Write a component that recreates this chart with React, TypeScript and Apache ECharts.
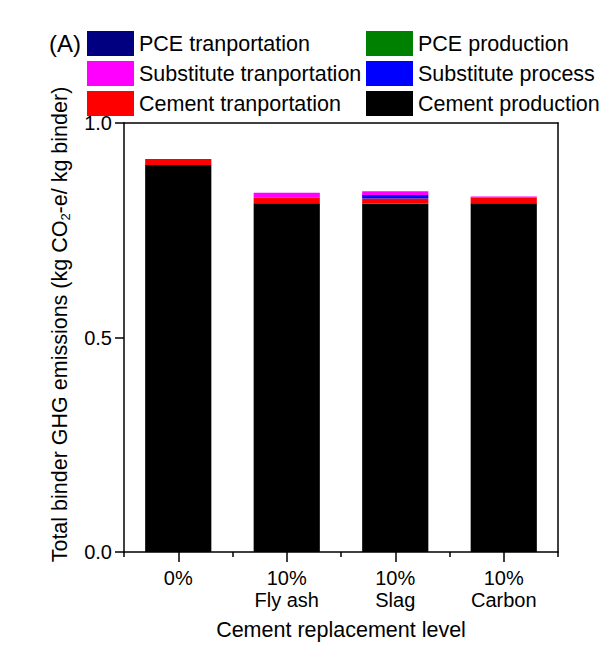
import React, { useEffect, useRef } from "react";
import * as echarts from "echarts";

const categories = ["0%\nFly ash", "10%\nFly ash", "10%\nSlag", "10%\nCarbon"];
const categoryLabels = ["0%", "10%\nFly ash", "10%\nSlag", "10%\nCarbon"];
const cementProduction = [0.902, 0.813, 0.812, 0.813];
const cementTransport = [0.014, 0.012, 0.012, 0.012];
const substituteProcess = [0, 0.001, 0.008, 0.0005];
const substituteTransport = [0, 0.0115, 0.009, 0.003];
const pceProduction = [0.0001, 0.0001, 0.0001, 0.0001];
const pceTransport = [0.0001, 0.0001, 0.0001, 0.0001];
const yTicks = ["0.0", "0.5", "1.0"];

const FONT = "Liberation Sans, Arial, sans-serif";

export default function App() {
  const ref = useRef<HTMLDivElement>(null);
  useEffect(() => {
    if (!ref.current) return;
    const chart = echarts.init(ref.current, undefined, { renderer: "svg" });
    const mk = (name: string, data: number[], color: string) => ({
      name,
      type: "bar",
      stack: "total",
      data,
      barWidth: "61%",
      itemStyle: { color },
      emphasis: { disabled: true },
    });
    const legendCommon = {
      orient: "vertical",
      top: 31,
      padding: 0,
      itemWidth: 47,
      itemHeight: 25,
      itemGap: 5,
      icon: "rect",
      selectedMode: false,
      textStyle: { fontSize: 21.5, fontFamily: FONT, color: "#000" },
    };
    chart.setOption({
      animation: false,
      backgroundColor: "#fff",
      textStyle: { fontFamily: FONT },
      graphic: [
        {
          type: "text",
          left: 49,
          top: 31,
          style: { text: "(A)", fontSize: 24, fontFamily: FONT, fill: "#000" },
        },
      ],
      legend: [
        {
          ...legendCommon,
          left: 87,
          data: ["PCE tranportation", "Substitute tranportation", "Cement tranportation"],
        },
        {
          ...legendCommon,
          left: 366,
          data: ["PCE production", "Substitute process", "Cement production"],
        },
      ],
      grid: { left: 124, right: 41, top: 123, bottom: 93, show: false },
      xAxis: [
        {
          type: "category",
          data: categoryLabels,
          name: "Cement replacement level",
          nameLocation: "middle",
          nameGap: 67,
          nameTextStyle: { fontSize: 21.5, fontFamily: FONT, color: "#000" },
          axisLine: { show: true, lineStyle: { color: "#000", width: 1.5 } },
          axisTick: { show: true, alignWithLabel: true, length: 10, lineStyle: { color: "#000", width: 1.5 } },
          axisLabel: { fontSize: 20, fontFamily: FONT, color: "#000", lineHeight: 22, margin: 15, interval: 0 },
        },
        {
          type: "category",
          data: categories,
          position: "bottom",
          axisLine: { show: false },
          axisTick: { show: true, length: 5, lineStyle: { color: "#000", width: 1.5 } },
          axisLabel: { show: false },
        },
        {
          type: "category",
          data: categories,
          position: "top",
          axisLine: { show: true, lineStyle: { color: "#000", width: 1.5 } },
          axisTick: { show: false },
          axisLabel: { show: false },
        },
      ],
      yAxis: [
        {
          type: "value",
          min: 0,
          max: 1,
          interval: 0.5,
          name: "{a|Total binder GHG emissions (kg CO}{s|2}{a|-e/ kg binder)}",
          nameLocation: "middle",
          nameGap: 52,
          nameTextStyle: {
            padding: [0, 0, 0, 26],
            rich: {
              a: { fontSize: 21.5, fontFamily: FONT, color: "#000" },
              s: { fontSize: 13, fontFamily: FONT, color: "#000", verticalAlign: "bottom", padding: [11, 0, 0, 0] },
            },
          },
          splitLine: { show: false },
          axisLine: { show: true, lineStyle: { color: "#000", width: 1.5 } },
          axisTick: { show: true, length: 9, lineStyle: { color: "#000", width: 1.5 } },
          axisLabel: {
            fontSize: 20,
            fontFamily: FONT,
            color: "#000",
            margin: 12,
            formatter: (v: number) => yTicks[Math.round(v * 2)] ?? "",
          },
        },
        {
          type: "value",
          min: 0,
          max: 1,
          interval: 0.5,
          position: "right",
          splitLine: { show: false },
          axisLine: { show: true, lineStyle: { color: "#000", width: 1.5 } },
          axisTick: { show: false },
          axisLabel: { show: false },
        },
      ],
      series: [
        mk("Cement production", cementProduction, "#000000"),
        mk("Cement tranportation", cementTransport, "#ff0000"),
        mk("Substitute process", substituteProcess, "#0000ff"),
        mk("Substitute tranportation", substituteTransport, "#ff00ff"),
        mk("PCE production", pceProduction, "#008000"),
        mk("PCE tranportation", pceTransport, "#000080"),
      ],
    });
    return () => chart.dispose();
  }, []);
  return (
    <div
      ref={ref}
      style={{ position: "absolute", left: 0, top: 0, width: 599, height: 646 }}
    />
  );
}
